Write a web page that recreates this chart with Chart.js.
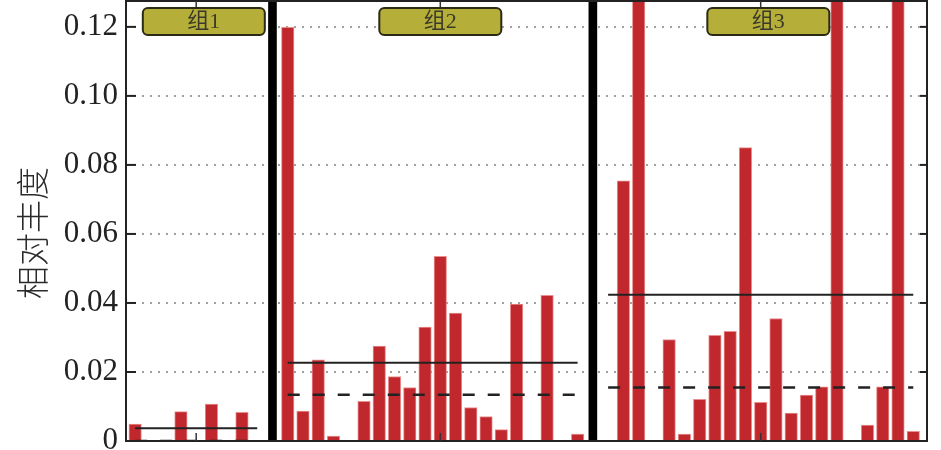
<!DOCTYPE html>
<html>
<head>
<meta charset="utf-8">
<script src="https://cdn.jsdelivr.net/npm/chart.js@4/dist/chart.umd.min.js"></script>
<style>
html,body{margin:0;padding:0;background:#fff;}
#wrap{width:941px;height:450px;}
</style>
</head>
<body>
<div id="wrap"><canvas id="c" width="941" height="450"></canvas></div>
<script>
// ---- data ----
const groupNames = ['组1', '组2', '组3'];
const group1Values = [0.0049, 0, 0, 0.0085, 0, 0.0107, 0, 0.0083, 0];
const group2Values = [0.1199, 0.0087, 0.0235, 0.0014, 0, 0.0115, 0.0275, 0.0187, 0.0155, 0.0330,
                      0.0535, 0.0371, 0.0097, 0.0071, 0.0033, 0.0397, 0, 0.0422, 0, 0.0020];
const group3Values = [0, 0.0754, 0.17, 0, 0.0294, 0.0020, 0.0121, 0.0306, 0.0318, 0.0850,
                      0.0112, 0.0355, 0.0081, 0.0133, 0.0157, 0.17, 0, 0.0046, 0.0157, 0.18, 0.0028];
const groupMeans = [0.0037, 0.0227, 0.0424];     // solid lines
const groupMedians = [0, 0.0134, 0.0155];        // dashed lines
const yTickValues = [0, 0.02, 0.04, 0.06, 0.08, 0.10, 0.12];
const yTickLabels = ['0', '0.02', '0.04', '0.06', '0.08', '0.10', '0.12'];
const yMax = 0.1275;
const yTitle = '相对丰度';

// ---- build positions: each group occupies consecutive slots, one slot (separator) between groups ----
const groups = [group1Values, group2Values, group3Values];
const barPoints = [];
const separatorPoints = [];
const groupInfo = [];
let pos = 0;
groups.forEach((vals, gi) => {
  const start = pos;
  vals.forEach((v, i) => { barPoints.push({x: start + i, y: v}); });
  const end = start + vals.length - 1;
  groupInfo.push({start, end, tick: start + Math.floor(vals.length / 2),
                  labelPos: start + vals.length / 2, name: groupNames[gi]});
  pos = end + 1;
  if (gi < groups.length - 1) { separatorPoints.push({x: pos, y: yMax}); pos += 1; }
});
const xMin = -0.6, xMax = pos - 1 + 0.9;

const lineDatasets = [];
groupInfo.forEach((g, gi) => {
  lineDatasets.push({
    type: 'line', data: [{x: g.start, y: groupMeans[gi]}, {x: g.end, y: groupMeans[gi]}],
    borderColor: '#222', borderWidth: 2, pointRadius: 0, fill: false, order: 0
  });
  lineDatasets.push({
    type: 'line', data: [{x: g.start, y: groupMedians[gi]}, {x: g.end, y: groupMedians[gi]}],
    borderColor: '#222', borderWidth: 2.5, borderDash: [12, 13], pointRadius: 0, fill: false, order: 0
  });
});

const decor = {
  id: 'decor',
  afterDatasetsDraw(chart) {
    const ctx = chart.ctx, a = chart.chartArea;
    const xs = chart.scales.x, ys = chart.scales.y;
    ctx.save();
    // frame
    ctx.strokeStyle = '#222'; ctx.lineWidth = 2;
    ctx.strokeRect(a.left, a.top, a.right - a.left, a.bottom - a.top);
    // inward y ticks
    ctx.lineWidth = 2;
    yTickValues.forEach(v => {
      const y = ys.getPixelForValue(v);
      ctx.beginPath(); ctx.moveTo(a.left, y); ctx.lineTo(a.left + 10, y); ctx.stroke();
      ctx.beginPath(); ctx.moveTo(a.right, y); ctx.lineTo(a.right - 7, y); ctx.stroke();
    });
    // group ticks + label boxes
    groupInfo.forEach(g => {
      const x = xs.getPixelForValue(g.tick);
      ctx.strokeStyle = '#333'; ctx.lineWidth = 1.5;
      ctx.beginPath(); ctx.moveTo(x, a.bottom); ctx.lineTo(x, a.bottom - 8); ctx.stroke();
      ctx.beginPath(); ctx.moveTo(x, a.top); ctx.lineTo(x, a.top + 8); ctx.stroke();
      const lx = xs.getPixelForValue(g.labelPos);
      const w = 122, h = 27, bx = lx - w / 2, by = a.top + 7;
      ctx.beginPath();
      ctx.roundRect(bx, by, w, h, 5);
      ctx.fillStyle = '#b5ae38'; ctx.fill();
      ctx.strokeStyle = '#2b2a14'; ctx.lineWidth = 2; ctx.stroke();
      ctx.fillStyle = '#3a3a2a';
      ctx.font = '22px "Liberation Serif", "Noto Sans CJK SC"';
      ctx.textAlign = 'center'; ctx.textBaseline = 'middle';
      ctx.fillText(g.name, lx, by + h / 2 + 1);
    });
    // y-axis title
    ctx.save();
    ctx.translate(32, (a.top + a.bottom) / 2 + 12);
    ctx.rotate(-Math.PI / 2);
    ctx.fillStyle = '#2a2a2a';
    ctx.font = '300 33px "Noto Sans CJK SC"';
    ctx.textAlign = 'center'; ctx.textBaseline = 'middle';
    ctx.fillText(yTitle, 0, 0);
    ctx.restore();
    ctx.restore();
  }
};

new Chart(document.getElementById('c'), {
  type: 'bar',
  data: {
    datasets: [
      ...lineDatasets,
      {
        type: 'bar', data: barPoints, backgroundColor: '#c0282e',
        borderColor: 'rgba(232,130,130,0.9)', borderWidth: 1, borderSkipped: 'bottom',
        barThickness: 12.5, grouped: false, order: 2
      },
      {
        type: 'bar', data: separatorPoints, backgroundColor: '#000', borderWidth: 0,
        barThickness: 8, grouped: false, order: 1
      }
    ]
  },
  options: {
    responsive: false, animation: false,
    layout: {padding: {top: 1, right: 14, bottom: 9, left: 0}},
    plugins: {legend: {display: false}, tooltip: {enabled: false}},
    scales: {
      x: {
        type: 'linear', min: xMin, max: xMax, display: false, offset: false
      },
      y: {
        min: 0, max: yMax,
        border: {display: false, dash: [2, 6]},
        grid: {
          drawTicks: false,
          color: ctx => (ctx.tick && ctx.tick.value === 0) ? 'rgba(0,0,0,0)' : '#a0a0a0',
          lineWidth: 2
        },
        afterBuildTicks: s => { s.ticks = yTickValues.map(v => ({value: v})); },
        ticks: {
          padding: 8, color: '#222',
          font: {family: '"Liberation Serif"', size: 31},
          callback: (v) => yTickLabels[yTickValues.findIndex(t => Math.abs(t - v) < 1e-9)]
        },
        afterFit: s => { s.width = 126; s.paddingTop = 0; s.paddingBottom = 0; }
      }
    }
  },
  plugins: [decor]
});
</script>
</body>
</html>
